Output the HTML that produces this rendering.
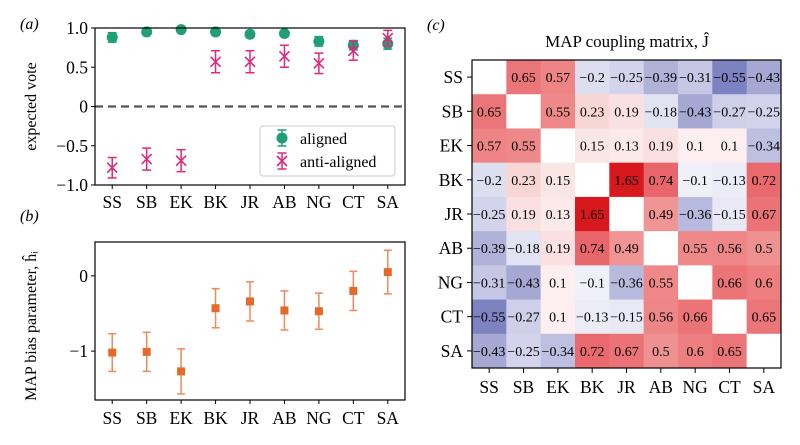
<!DOCTYPE html>
<html><head><meta charset="utf-8"><style>
body{margin:0;background:#fff}
svg{display:block;font-family:"Liberation Serif",serif}
</style></head><body>
<svg id="fig" width="800" height="445" viewBox="0 0 800 445"></svg>
<script>
const cats=["SS","SB","EK","BK","JR","AB","NG","CT","SA"];
const alignedVals=[0.88,0.95,0.98,0.95,0.92,0.93,0.83,0.78,0.80];
const alignedErr=[0.06,0.03,0.02,0.03,0.04,0.03,0.06,0.06,0.07];
const antiVals=[-0.78,-0.67,-0.69,0.57,0.57,0.64,0.55,0.71,0.87];
const antiErr=[0.13,0.14,0.14,0.14,0.14,0.14,0.13,0.12,0.10];
const biasVals=[-1.02,-1.01,-1.27,-0.43,-0.34,-0.46,-0.47,-0.20,0.05];
const biasErr=[0.25,0.26,0.30,0.26,0.26,0.26,0.24,0.26,0.29];
const ticksA=[1.0,0.5,0,-0.5,-1.0];
const tickLabelsA=["1.0","0.5","0","\u22120.5","\u22121.0"];
const ticksB=[0,-1];
const tickLabelsB=["0","\u22121"];
const J=[
[null,0.65,0.57,-0.2,-0.25,-0.39,-0.31,-0.55,-0.43],
[0.65,null,0.55,0.23,0.19,-0.18,-0.43,-0.27,-0.25],
[0.57,0.55,null,0.15,0.13,0.19,0.1,0.1,-0.34],
[-0.2,0.23,0.15,null,1.65,0.74,-0.1,-0.13,0.72],
[-0.25,0.19,0.13,1.65,null,0.49,-0.36,-0.15,0.67],
[-0.39,-0.18,0.19,0.74,0.49,null,0.55,0.56,0.5],
[-0.31,-0.43,0.1,-0.1,-0.36,0.55,null,0.66,0.6],
[-0.55,-0.27,0.1,-0.13,-0.15,0.56,0.66,null,0.65],
[-0.43,-0.25,-0.34,0.72,0.67,0.5,0.6,0.65,null]];

const svg=document.getElementById('fig');
const NS="http://www.w3.org/2000/svg";
function mk(tag,attrs,parent){const e=document.createElementNS(NS,tag);for(const k in attrs)e.setAttribute(k,attrs[k]);(parent||svg).appendChild(e);return e;}
function txt(s,attrs,parent){const e=mk('text',attrs,parent);e.textContent=s;return e;}
const FS=17.5;

// Panel a
const ax={l:95,r:405,t:28,b:185};
const xA=i=>ax.l+(i+0.5)*(ax.r-ax.l)/9;
const yA=v=>ax.t+(1-v)/2*(ax.b-ax.t);
const gA=mk('g',{});


txt("(a)",{x:20,y:29,'font-size':16,'font-style':'italic'},gA);
mk('line',{x1:ax.l,x2:ax.r,y1:yA(0),y2:yA(0),stroke:'#555','stroke-width':2.2,'stroke-dasharray':'8,5'},gA);
ticksA.forEach((t,k)=>{mk('line',{x1:ax.l-4,x2:ax.l,y1:yA(t),y2:yA(t),stroke:'#000'},gA);
 const e=txt(tickLabelsA[k],{x:ax.l-7,y:yA(t)+6,'font-size':FS,'text-anchor':'end'},gA);});
cats.forEach((c,i)=>{mk('line',{x1:xA(i),x2:xA(i),y1:ax.b,y2:ax.b+4,stroke:'#000'},gA);
 const e=txt(c,{x:xA(i),y:ax.b+23,'font-size':FS,'text-anchor':'middle'},gA);});
const ya=txt("expected vote",{x:0,y:0,'font-size':16,'text-anchor':'middle',transform:`translate(36,${(ax.t+ax.b)/2}) rotate(-90)`},gA);

function errbar(g,x,y1,y2,col,w){mk('line',{x1:x,x2:x,y1:y1,y2:y2,stroke:col,'stroke-width':1.5},g);
 mk('line',{x1:x-w,x2:x+w,y1:y1,y2:y1,stroke:col,'stroke-width':1.5},g);mk('line',{x1:x-w,x2:x+w,y1:y2,y2:y2,stroke:col,'stroke-width':1.5},g);}
const green='#1f9e78',pink='#e0287a';
cats.forEach((c,i)=>{
 const g=mk('g',{},gA);
 errbar(g,xA(i),yA(alignedVals[i]+alignedErr[i]),yA(alignedVals[i]-alignedErr[i]),green,4.5);
 mk('circle',{cx:xA(i),cy:yA(alignedVals[i]),r:5.5,fill:green},g);
});
cats.forEach((c,i)=>{
 const g=mk('g',{},gA);
 errbar(g,xA(i),yA(antiVals[i]+antiErr[i]),yA(antiVals[i]-antiErr[i]),pink,4.5);
 const x=xA(i),y=yA(antiVals[i]);
 mk('path',{d:`M${x-5},${y-5}L${x+5},${y+5}M${x-5},${y+5}L${x+5},${y-5}`,stroke:pink,'stroke-width':1.6},g);
});
mk('rect',{x:ax.l,y:ax.t,width:ax.r-ax.l,height:ax.b-ax.t,fill:'none',stroke:'#000','stroke-width':1.2},gA);
const lg=mk('g',{},gA);
mk('rect',{x:260,y:126,width:135,height:50,rx:3,fill:'#fff',stroke:'#ccc'},lg);
errbar(lg,282,130,146,green,4.5);mk('circle',{cx:282,cy:138,r:5.5,fill:green},lg);
txt("aligned",{x:300,y:144,'font-size':16},lg);
errbar(lg,282,153,169,pink,4.5);mk('path',{d:'M277,156L287,166M277,166L287,156',stroke:pink,'stroke-width':1.6},lg);
txt("anti-aligned",{x:300,y:167,'font-size':16},lg);

// Panel b
const bx={l:95,r:405,t:242,b:400};
const xB=i=>bx.l+(i+0.5)*(bx.r-bx.l)/9;
const yB=v=>bx.t+(0.45-v)/2.1*(bx.b-bx.t);
const gB=mk('g',{});
txt("(b)",{x:20,y:221,'font-size':16,'font-style':'italic'},gB);
ticksB.forEach((t,k)=>{mk('line',{x1:bx.l-4,x2:bx.l,y1:yB(t),y2:yB(t),stroke:'#000'},gB);
 const e=txt(tickLabelsB[k],{x:bx.l-7,y:yB(t)+6,'font-size':FS,'text-anchor':'end'},gB);});
cats.forEach((c,i)=>{mk('line',{x1:xB(i),x2:xB(i),y1:bx.b,y2:bx.b+4,stroke:'#000'},gB);
 const e=txt(c,{x:xB(i),y:bx.b+24,'font-size':FS,'text-anchor':'middle'},gB);});
const yb=txt("MAP bias parameter, \u0125\u1d62",{x:0,y:0,'font-size':16,'text-anchor':'middle',transform:`translate(36,${(bx.t+bx.b)/2+5}) rotate(-90)`},gB);

const orange='#e4692a';
cats.forEach((c,i)=>{
 const g=mk('g',{},gB);
 errbar(g,xB(i),yB(biasVals[i]+biasErr[i]),yB(biasVals[i]-biasErr[i]),'#ee8a5a',4);
 mk('rect',{x:xB(i)-4,y:yB(biasVals[i])-4,width:8,height:8,fill:orange},g);
});
mk('rect',{x:bx.l,y:bx.t,width:bx.r-bx.l,height:bx.b-bx.t,fill:'none',stroke:'#000','stroke-width':1.2},gB);

// Panel c
const hx={l:472,r:781,t:60,b:368};
const cw=(hx.r-hx.l)/9,ch=(hx.b-hx.t)/9;
function lerp(a,b,t){return a.map((v,k)=>Math.round(v+(b[k]-v)*t));}
function colorOf(v){
 const pos=[[0,[255,255,255]],[0.2,[250,222,222]],[0.5,[240,145,145]],[0.75,[232,100,105]],[1.65,[215,25,30]]];
 const neg=[[0,[255,255,255]],[0.15,[232,233,245]],[0.3,[200,202,230]],[0.43,[165,168,210]],[0.55,[125,130,192]],[1.65,[40,40,150]]];
 const st=v>=0?pos:neg;const a=Math.abs(v);
 for(let k=1;k<st.length;k++){if(a<=st[k][0]){const t=(a-st[k-1][0])/(st[k][0]-st[k-1][0]);return 'rgb('+lerp(st[k-1][1],st[k][1],t).join(',')+')';}}
 return 'rgb('+st[st.length-1][1].join(',')+')';
}
function fmt(v){return (v<0?'\u2212':'')+String(Math.abs(v));}
const gC=mk('g',{});
txt("(c)",{x:427,y:30,'font-size':16,'font-style':'italic'},gC);
const tt=txt("MAP coupling matrix, \u0134",{x:627,y:47,'font-size':17,'text-anchor':'middle'},gC);

J.forEach((row,r)=>row.forEach((v,c)=>{
 const x=hx.l+c*cw,y=hx.t+r*ch;
 const cell=mk('rect',{x:x,y:y,width:cw+0.5,height:ch+0.5,fill:v===null?'#fff':colorOf(v)},gC);
 
 
 if(v!==null){const t=txt(fmt(v),{x:x+cw/2,y:y+ch/2+5,'font-size':14,'text-anchor':'middle'},gC);
  }
}));
cats.forEach((c,i)=>{
 mk('line',{x1:hx.l-5,x2:hx.l,y1:hx.t+(i+0.5)*ch,y2:hx.t+(i+0.5)*ch,stroke:'#000'},gC);
 const e=txt(c,{x:hx.l-9,y:hx.t+(i+0.5)*ch+6,'font-size':FS,'text-anchor':'end'},gC);
 mk('line',{x1:hx.l+(i+0.5)*cw,x2:hx.l+(i+0.5)*cw,y1:hx.b,y2:hx.b+5,stroke:'#000'},gC);
 const f=txt(c,{x:hx.l+(i+0.5)*cw,y:hx.b+25,'font-size':FS,'text-anchor':'middle'},gC);
});
mk('rect',{x:hx.l,y:hx.t,width:hx.r-hx.l,height:hx.b-hx.t,fill:'none',stroke:'#000','stroke-width':1.2},gC);
</script>
</body></html>
